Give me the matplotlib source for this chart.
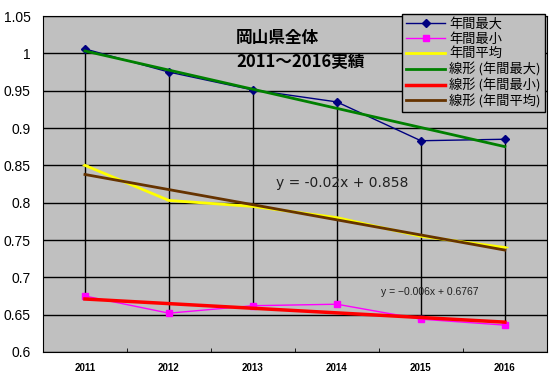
import numpy as np
import matplotlib
matplotlib.use("Agg")
import matplotlib.pyplot as plt

plt.rcParams['font.family'] = ['Noto Sans CJK JP', 'DejaVu Sans']

years = ["2011", "2012", "2013", "2014", "2015", "2016"]
max_vals = [1.006, 0.975, 0.951, 0.935, 0.883, 0.885]
min_vals = [0.675, 0.652, 0.662, 0.664, 0.644, 0.636]
avg_vals = [0.850, 0.803, 0.795, 0.780, 0.755, 0.740]

x = np.arange(len(years))
xn = x + 1  # Excel trendline x = 1..n

fig = plt.figure(figsize=(5.58, 3.80), dpi=100)
ax = fig.add_axes([0.077, 0.0737, 0.903, 0.884])
ax.set_facecolor("#C0C0C0")

# high-low lines
ax.vlines(x, min_vals, max_vals, colors="black", lw=1, zorder=2)

ax.plot(x, max_vals, color="#000080", lw=1, marker="D", ms=4, label="年間最大", zorder=4)
ax.plot(x, min_vals, color="#FF00FF", lw=1, marker="s", ms=5, label="年間最小", zorder=4)
ax.plot(x, avg_vals, color="#FFFF00", lw=2, marker="_", ms=4, label="年間平均", zorder=3)

# linear trendlines
for vals, col, lab, lw in [(max_vals, "#008000", "線形 (年間最大)", 2),
                           (min_vals, "#FF0000", "線形 (年間最小)", 2.5),
                           (avg_vals, "#663300", "線形 (年間平均)", 2)]:
    k, b = np.polyfit(xn, vals, 1)
    ax.plot(x, k * xn + b, color=col, lw=lw, label=lab, zorder=5)

ax.set_xlim(-0.5, 5.5)
ax.set_ylim(0.6, 1.05)
ax.set_yticks(np.arange(0.6, 1.051, 0.05))
ax.set_yticklabels(["0.6", "0.65", "0.7", "0.75", "0.8", "0.85", "0.9", "0.95", "1", "1.05"],
                   fontsize=10, family=["Liberation Sans"])
ax.set_xticks(x)
ax.set_xticklabels(years, fontsize=7, fontweight="bold", family=["Liberation Sans"])
ax.tick_params(axis="x", length=0, pad=8)
ax.set_xticks(np.arange(0.5, 5.5, 1), minor=True)
ax.tick_params(axis="x", which="minor", direction="in", length=3)
ax.tick_params(axis="y", length=0, pad=9)
ax.grid(axis="y", color="black", lw=1, zorder=1)
for s in ax.spines.values():
    s.set_color("black")

ax.text(0.383, 0.934, "岡山県全体", transform=ax.transAxes, fontsize=12, fontweight="bold",
        va="center", ha="left")
ax.text(0.383, 0.863, "2011～2016実績", transform=ax.transAxes, fontsize=12, fontweight="bold",
        va="center", ha="left")
ax.text(2.27, 0.826, "y = -0.02x + 0.858", fontsize=10, color="#202020",
        family=["DejaVu Sans"], va="center")
ax.text(3.52, 0.681, "y = \u22120.006x + 0.6767", fontsize=7.5, color="#202020",
        family=["Liberation Sans"], va="center")

leg = ax.legend(loc="upper right", bbox_to_anchor=(0.996, 1.007), fontsize=9.5,
                frameon=True, fancybox=False, framealpha=1, edgecolor="black",
                facecolor="#C0C0C0", handlelength=3.0, borderpad=0.3, labelspacing=0.14,
                handletextpad=0.3, borderaxespad=0)
leg.get_frame().set_linewidth(1)

fig.savefig("out.png", dpi=100)
